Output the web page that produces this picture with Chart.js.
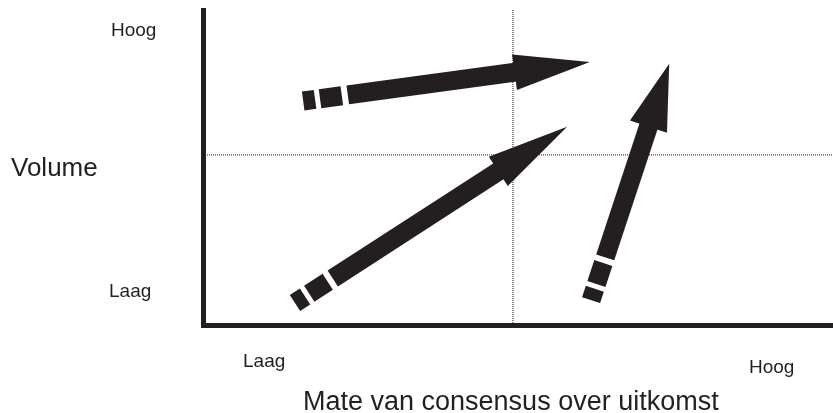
<!DOCTYPE html>
<html>
<head>
<meta charset="utf-8">
<style>
  html, body { margin: 0; padding: 0; background: #ffffff; }
  #wrap { width: 833px; height: 413px; }
</style>
<script src="https://cdn.jsdelivr.net/npm/chart.js@4/dist/chart.umd.min.js"></script>
</head>
<body>
<div id="wrap"><canvas id="c" width="833" height="413"></canvas></div>
<script>
// ---- Data (in axis units 0..100) ----
const arrowNames = ['Arrow top', 'Arrow diagonal', 'Arrow steep'];
const arrowStartX = [15.9, 14.6, 61.6];
const arrowStartY = [71.1, 7.0, 7.9];
const arrowEndX = [61.4, 57.8, 74.0];
const arrowEndY = [83.5, 62.9, 82.9];
const dividerX = [49.2];
const dividerY = [54.0];
const xTickLabels = ['Laag', 'Hoog'];
const yTickLabels = ['Laag', 'Hoog'];
const xAxisTitle = 'Mate van consensus over uitkomst';
const yAxisTitle = 'Volume';

// ---- Styles ----
const INK = '#231f20';
const headLens = [76, 82, 66];
const headHalf = [18, 17.5, 19.5];
const shaftHalf = 9.5;

const arrowPlugin = {
  id: 'arrows',
  afterDatasetsDraw(chart) {
    const ctx = chart.ctx;
    const xs = chart.scales.x, ys = chart.scales.y;
    ctx.save();
    ctx.fillStyle = INK;
    for (let i = 0; i < arrowStartX.length; i++) {
      const sx = xs.getPixelForValue(arrowStartX[i]);
      const sy = ys.getPixelForValue(arrowStartY[i]);
      const ex = xs.getPixelForValue(arrowEndX[i]);
      const ey = ys.getPixelForValue(arrowEndY[i]);
      const dx = ex - sx, dy = ey - sy;
      const len = Math.hypot(dx, dy);
      const ux = dx / len, uy = dy / len;
      const nx = -uy, ny = ux;
      const P = (t, w) => [sx + ux * t + nx * w, sy + uy * t + ny * w];
      const quad = (t0, t1) => {
        const a = P(t0, -shaftHalf), b = P(t1, -shaftHalf), c = P(t1, shaftHalf), d = P(t0, shaftHalf);
        ctx.beginPath();
        ctx.moveTo(a[0], a[1]); ctx.lineTo(b[0], b[1]); ctx.lineTo(c[0], c[1]); ctx.lineTo(d[0], d[1]);
        ctx.closePath(); ctx.fill();
      };
      const L = headLens[i], H = headHalf[i];
      quad(0, 12);
      quad(17, 39);
      quad(45, len - L + 1);
      const b1 = P(len - L, -H), b2 = P(len - L, H);
      ctx.beginPath();
      ctx.moveTo(b1[0], b1[1]); ctx.lineTo(ex, ey); ctx.lineTo(b2[0], b2[1]);
      ctx.closePath(); ctx.fill();
    }
    ctx.restore();
  }
};

const textPlugin = {
  id: 'texts',
  afterDraw(chart) {
    const ctx = chart.ctx;
    ctx.save();
    ctx.fillStyle = INK;
    ctx.textBaseline = 'alphabetic';
    ctx.textAlign = 'left';
    ctx.font = '19px "Liberation Sans", Arial, sans-serif';
    ctx.fillText(yTickLabels[1], 111, 36);
    ctx.fillText(yTickLabels[0], 109, 297);
    ctx.fillText(xTickLabels[0], 243, 367);
    ctx.fillText(xTickLabels[1], 749, 373);
    ctx.font = '26px "Liberation Sans", Arial, sans-serif';
    ctx.fillText(yAxisTitle, 11, 176);
    ctx.font = '27px "Liberation Sans", Arial, sans-serif';
    ctx.fillText(xAxisTitle, 303, 410);
    ctx.restore();
  }
};

const dotted = {
  borderColor: '#1a1a1a',
  borderWidth: 1,
  borderDash: [1, 1],
  pointRadius: 0,
  fill: false,
  showLine: true
};

new Chart(document.getElementById('c'), {
  type: 'scatter',
  data: {
    datasets: [
      Object.assign({ label: 'divider x', data: [{ x: dividerX[0], y: 0 }, { x: dividerX[0], y: 100 }] }, dotted),
      Object.assign({ label: 'divider y', data: [{ x: 0, y: dividerY[0] }, { x: 100, y: dividerY[0] }] }, dotted)
    ]
  },
  options: {
    responsive: false,
    animation: false,
    events: [],
    layout: { padding: { left: 203, right: 0, top: 10, bottom: 88 } },
    plugins: { legend: { display: false }, tooltip: { enabled: false }, title: { display: false } },
    scales: {
      x: {
        type: 'linear', min: 0, max: 100,
        grid: { display: false, drawTicks: false },
        ticks: { display: false },
        border: { display: true, width: 5, color: INK },
        afterFit(s) { s.height = 0; }
      },
      y: {
        type: 'linear', min: 0, max: 100,
        grid: { display: false, drawTicks: false },
        ticks: { display: false },
        border: { display: true, width: 5, color: INK },
        afterFit(s) { s.width = 0; }
      }
    }
  },
  plugins: [arrowPlugin, textPlugin]
});
</script>
</body>
</html>
